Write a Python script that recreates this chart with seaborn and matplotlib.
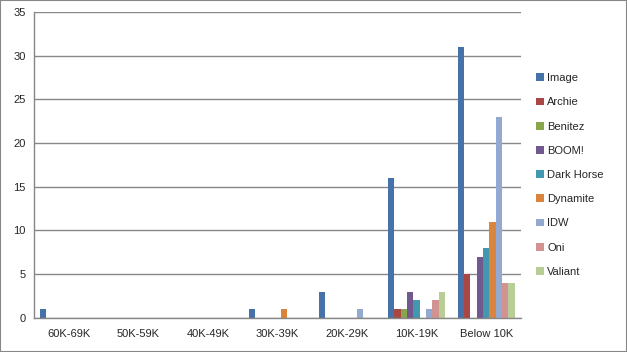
import pandas as pd
import matplotlib
matplotlib.use("Agg")
import matplotlib.pyplot as plt
import seaborn as sns
from matplotlib.ticker import FixedLocator

categories = ['60K-69K', '50K-59K', '40K-49K', '30K-39K', '20K-29K', '10K-19K', 'Below 10K']
publishers = ['Image', 'Archie', 'Benitez', 'BOOM!', 'Dark Horse', 'Dynamite', 'IDW', 'Oni', 'Valiant']

image = [1, 0, 0, 1, 3, 16, 31]
archie = [0, 0, 0, 0, 0, 1, 5]
benitez = [0, 0, 0, 0, 0, 1, 0]
boom = [0, 0, 0, 0, 0, 3, 7]
dark_horse = [0, 0, 0, 0, 0, 2, 8]
dynamite = [0, 0, 0, 1, 0, 0, 11]
idw = [0, 0, 0, 0, 1, 1, 23]
oni = [0, 0, 0, 0, 0, 2, 4]
valiant = [0, 0, 0, 0, 0, 3, 4]

colors = ['#4572A7', '#AA4643', '#89A54E', '#71588F', '#4198AF',
          '#DB843D', '#93A9CF', '#D19392', '#B9CD96']

series = [image, archie, benitez, boom, dark_horse, dynamite, idw, oni, valiant]
rows = []
for pub, vals in zip(publishers, series):
    for cat, v in zip(categories, vals):
        rows.append({'range': cat, 'publisher': pub, 'count': v})
df = pd.DataFrame(rows)

sns.set_style('white')
plt.rcParams['font.family'] = ['Liberation Sans', 'DejaVu Sans']

fig = plt.figure(figsize=(6.27, 3.52), dpi=100)
ax = fig.add_axes([0.054, 0.097, 0.777, 0.869])

sns.barplot(data=df, x='range', y='count', hue='publisher', hue_order=publishers,
            order=categories, palette=colors, width=0.82, saturation=1,
            errorbar=None, linewidth=0, ax=ax)

ax.set_ylim(0, 35)
ax.set_yticks(range(0, 36, 5))
ax.set_xlim(-0.5, len(categories) - 0.5)
ax.yaxis.grid(True, color='#878787', linewidth=1)
ax.set_axisbelow(True)
ax.set_xlabel('')
ax.set_ylabel('')
for s in ['top', 'right']:
    ax.spines[s].set_visible(False)
for s in ['left', 'bottom']:
    ax.spines[s].set_color('#878787')
    ax.spines[s].set_linewidth(1)

ax.tick_params(axis='x', which='major', length=0, labelsize=8, pad=8)
ax.tick_params(axis='y', length=0, labelsize=8, pad=6)
ax.xaxis.set_minor_locator(FixedLocator([i - 0.5 for i in range(len(categories) + 1)]))
ax.tick_params(axis='x', which='minor', length=4, color='#878787', width=1, direction='out')

ax.legend(loc='center left', bbox_to_anchor=(1.01, 0.467), frameon=False,
          fontsize=8, handlelength=0.7, handleheight=0.7, handletextpad=0.3,
          labelspacing=1.28)

fig.patches.append(plt.Rectangle((0, 0), 1, 1, transform=fig.transFigure,
                                 fill=False, edgecolor='#878787', linewidth=1.5))

fig.savefig('out.png', dpi=100)
